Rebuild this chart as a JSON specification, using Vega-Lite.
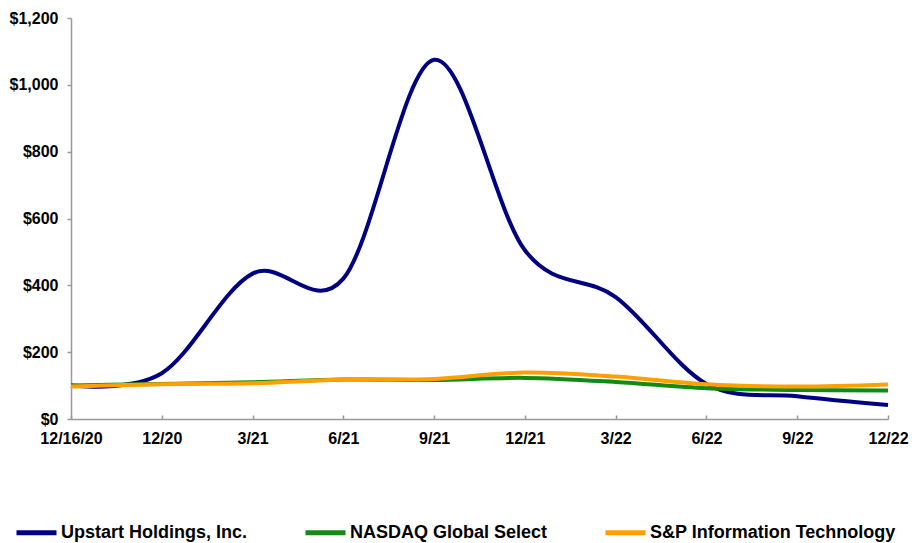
{
  "$schema": "https://vega.github.io/schema/vega-lite/v6.json",
  "width": 817,
  "height": 401,
  "autosize": {"type": "none"},
  "padding": {"left": 71, "top": 18, "right": 24, "bottom": 124},
  "background": "white",
  "config": {
    "view": {"stroke": null},
    "font": "Liberation Sans"
  },
  "data": {
    "values": [
      {"date": "12/16/20", "series": "Upstart Holdings, Inc.", "value": 100},
      {"date": "12/20", "series": "Upstart Holdings, Inc.", "value": 137},
      {"date": "3/21", "series": "Upstart Holdings, Inc.", "value": 435},
      {"date": "6/21", "series": "Upstart Holdings, Inc.", "value": 420},
      {"date": "9/21", "series": "Upstart Holdings, Inc.", "value": 1075},
      {"date": "12/21", "series": "Upstart Holdings, Inc.", "value": 505},
      {"date": "3/22", "series": "Upstart Holdings, Inc.", "value": 365},
      {"date": "6/22", "series": "Upstart Holdings, Inc.", "value": 105},
      {"date": "9/22", "series": "Upstart Holdings, Inc.", "value": 68},
      {"date": "12/22", "series": "Upstart Holdings, Inc.", "value": 42},
      {"date": "12/16/20", "series": "NASDAQ Global Select", "value": 100},
      {"date": "12/20", "series": "NASDAQ Global Select", "value": 105},
      {"date": "3/21", "series": "NASDAQ Global Select", "value": 110},
      {"date": "6/21", "series": "NASDAQ Global Select", "value": 118},
      {"date": "9/21", "series": "NASDAQ Global Select", "value": 117},
      {"date": "12/21", "series": "NASDAQ Global Select", "value": 123},
      {"date": "3/22", "series": "NASDAQ Global Select", "value": 111},
      {"date": "6/22", "series": "NASDAQ Global Select", "value": 92},
      {"date": "9/22", "series": "NASDAQ Global Select", "value": 87},
      {"date": "12/22", "series": "NASDAQ Global Select", "value": 85},
      {"date": "12/16/20", "series": "S&P Information Technology", "value": 97},
      {"date": "12/20", "series": "S&P Information Technology", "value": 104},
      {"date": "3/21", "series": "S&P Information Technology", "value": 107},
      {"date": "6/21", "series": "S&P Information Technology", "value": 118},
      {"date": "9/21", "series": "S&P Information Technology", "value": 120},
      {"date": "12/21", "series": "S&P Information Technology", "value": 139},
      {"date": "3/22", "series": "S&P Information Technology", "value": 127},
      {"date": "6/22", "series": "S&P Information Technology", "value": 104},
      {"date": "9/22", "series": "S&P Information Technology", "value": 97},
      {"date": "12/22", "series": "S&P Information Technology", "value": 103}
    ]
  },
  "mark": {"type": "line", "interpolate": "cardinal", "strokeWidth": 4},
  "encoding": {
    "x": {
      "field": "date",
      "type": "ordinal",
      "sort": null,
      "scale": {"type": "point", "padding": 0},
      "axis": {
        "title": null,
        "labelAngle": 0,
        "labelFont": "Liberation Sans",
        "labelFontWeight": "bold",
        "labelFontSize": 16,
        "labelColor": "#000000",
        "labelPadding": 15,
        "domainColor": "#999999",
        "domainWidth": 1.5,
        "tickColor": "#999999",
        "tickSize": -4,
        "tickWidth": 1.5,
        "grid": false
      }
    },
    "y": {
      "field": "value",
      "type": "quantitative",
      "scale": {"domain": [0, 1200]},
      "axis": {
        "title": null,
        "values": [0, 200, 400, 600, 800, 1000, 1200],
        "format": "$,.0f",
        "labelFont": "Liberation Sans",
        "labelFontWeight": "bold",
        "labelFontSize": 16,
        "labelColor": "#000000",
        "labelPadding": 9,
        "domainColor": "#999999",
        "domainWidth": 1.5,
        "tickColor": "#999999",
        "tickSize": 4,
        "tickWidth": 1.5,
        "grid": false
      }
    },
    "color": {
      "field": "series",
      "type": "nominal",
      "sort": null,
      "scale": {
        "domain": ["Upstart Holdings, Inc.", "NASDAQ Global Select", "S&P Information Technology"],
        "range": ["#000080", "#138a13", "#ffa000"]
      },
      "legend": {
        "title": null,
        "orient": "none",
        "direction": "horizontal",
        "legendX": -57,
        "legendY": 492,
        "symbolType": "stroke",
        "symbolSize": 1600,
        "symbolStrokeWidth": 5,
        "labelFont": "Liberation Sans",
        "labelFontWeight": "bold",
        "labelFontSize": 18,
        "labelColor": "#000000",
        "labelOffset": 2,
        "columnPadding": 47,
        "labelLimit": 400
      }
    }
  }
}
